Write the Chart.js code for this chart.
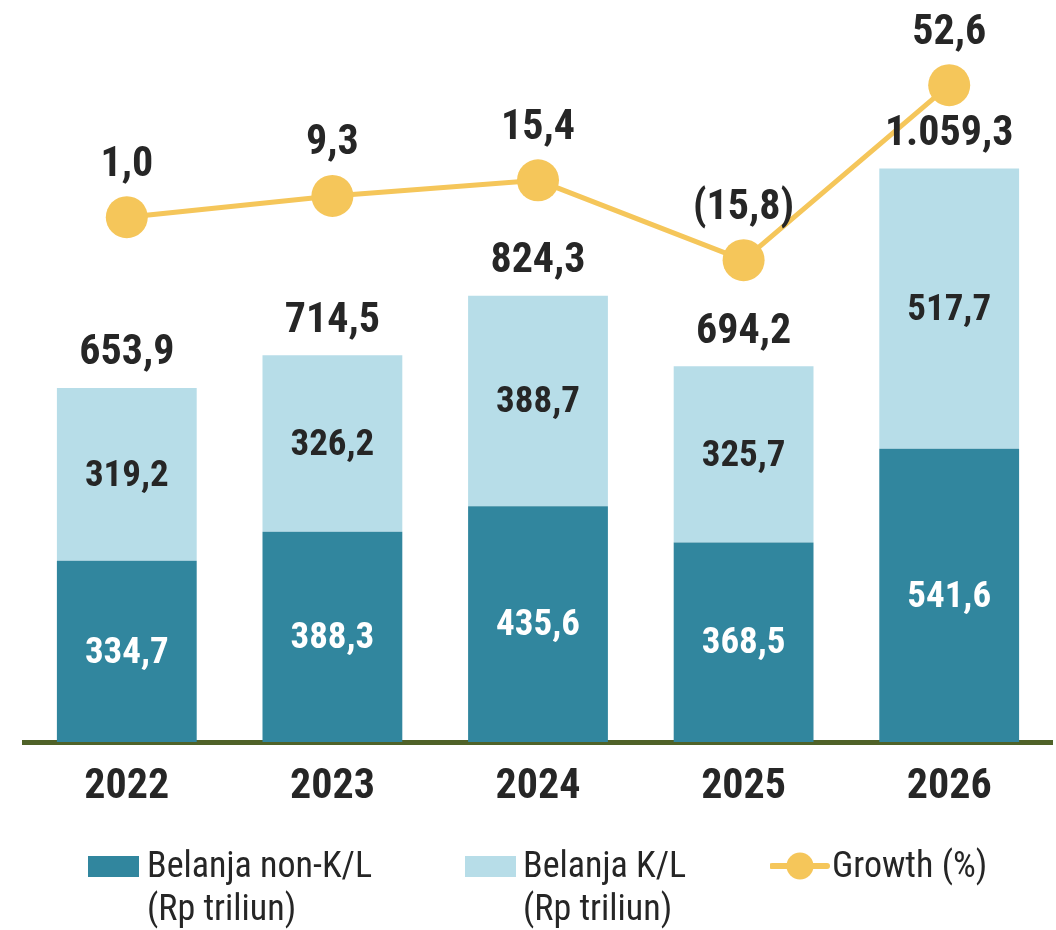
<!DOCTYPE html>
<html>
<head>
<meta charset="utf-8">
<script src="https://cdn.jsdelivr.net/npm/chart.js@4/dist/chart.umd.min.js"></script>
<style>
  html, body { margin: 0; padding: 0; background: #fff; overflow: hidden; }
  #wrap { position: relative; width: 1056px; height: 930px; }
  #c { position: absolute; left: 0; top: 0; }
  .lg { position: absolute; font-family: "Roboto Condensed", "Liberation Sans Narrow", "Arial Narrow", sans-serif; font-size: 36px; color: #262626; line-height: 43px; white-space: nowrap; }
  .box { position: absolute; width: 51px; height: 21px; }
</style>
</head>
<body>
<div id="wrap">
  <canvas id="c" width="1056" height="930"></canvas>
  <div class="box" style="left:88px; top:856px; background:#31869E;"></div>
  <div class="lg" style="left:147px; top:844px;">Belanja non-K/L<br>(Rp triliun)</div>
  <div class="box" style="left:465px; top:856px; background:#B7DDE8;"></div>
  <div class="lg" style="left:523px; top:844px;">Belanja K/L<br>(Rp triliun)</div>
  <svg style="position:absolute; left:770px; top:848px;" width="60" height="36">
    <line x1="2" y1="18" x2="57" y2="18" stroke="#F5C65A" stroke-width="6" stroke-linecap="round"/>
    <circle cx="30" cy="18" r="13.5" fill="#F5C65A"/>
  </svg>
  <div class="lg" style="left:832px; top:844px;">Growth (%)</div>
</div>
<script>
const years = ["2022", "2023", "2024", "2025", "2026"];
const nonKL = [334.7, 388.3, 435.6, 368.5, 541.6];
const KL = [319.2, 326.2, 388.7, 325.7, 517.7];
const totals = [653.9, 714.5, 824.3, 694.2, 1059.3];
const growth = [1.0, 9.3, 15.4, -15.8, 52.6];

const FONT = '"Roboto Condensed", "Liberation Sans Narrow", "Arial Narrow", sans-serif';

function fmt(v) {
  const neg = v < 0;
  const a = Math.abs(v).toFixed(1);
  let [i, d] = a.split('.');
  i = i.replace(/\B(?=(\d{3})+(?!\d))/g, '.');
  const s = i + ',' + d;
  return neg ? '(' + s + ')' : s;
}

const labelPlugin = {
  id: 'labels',
  afterDatasetsDraw(chart) {
    const ctx = chart.ctx;
    ctx.save();
    ctx.textAlign = 'center';
    ctx.textBaseline = 'middle';
    const m0 = chart.getDatasetMeta(0);
    const m1 = chart.getDatasetMeta(1);
    const m2 = chart.getDatasetMeta(2);
    ctx.font = 'bold 37px ' + FONT;
    m0.data.forEach((el, i) => {
      ctx.fillStyle = '#ffffff';
      ctx.fillText(fmt(nonKL[i]), el.x, (el.y + el.base) / 2 + 2);
    });
    m1.data.forEach((el, i) => {
      ctx.fillStyle = '#262626';
      ctx.fillText(fmt(KL[i]), el.x, (el.y + el.base) / 2 + 2);
    });
    ctx.font = 'bold 42px ' + FONT;
    m1.data.forEach((el, i) => {
      ctx.fillStyle = '#262626';
      ctx.fillText(fmt(totals[i]), el.x, el.y - 34);
    });
    m2.data.forEach((el, i) => {
      ctx.fillStyle = '#262626';
      ctx.fillText(fmt(growth[i]), el.x, el.y - 52);
    });
    ctx.restore();
  }
};

new Chart(document.getElementById('c'), {
  type: 'bar',
  data: {
    labels: years,
    datasets: [
      { label: 'Belanja non-K/L (Rp triliun)', data: nonKL, backgroundColor: '#31869E', stack: 's', order: 2, yAxisID: 'y', barPercentage: 0.68, categoryPercentage: 1.0 },
      { label: 'Belanja K/L (Rp triliun)', data: KL, backgroundColor: '#B7DDE8', stack: 's', order: 2, yAxisID: 'y', barPercentage: 0.68, categoryPercentage: 1.0 },
      { type: 'line', label: 'Growth (%)', data: growth, borderColor: '#F5C65A', backgroundColor: '#F5C65A', borderWidth: 5, pointRadius: 21, pointHoverRadius: 21, pointBorderWidth: 0, yAxisID: 'y2', order: 0, tension: 0, clip: false }
    ]
  },
  options: {
    responsive: false,
    animation: false,
    events: [],
    layout: { autoPadding: false, padding: { left: 24, right: 4, top: 10, bottom: 0 } },
    plugins: { legend: { display: false }, tooltip: { enabled: false } },
    scales: {
      x: {
        stacked: true,
        grid: { display: false, drawTicks: false },
        border: { display: true, color: '#4F6228', width: 5 },
        ticks: { color: '#262626', font: { family: FONT, size: 42, weight: 'bold' }, padding: 20 },
        afterFit(scale) { scale.paddingLeft = 0; scale.paddingRight = 0; scale.height = 188; }
      },
      y: { stacked: true, display: false, min: 0, max: 1352 },
      y2: { display: false, min: -204.2, max: 82.0 }
    }
  },
  plugins: [labelPlugin]
});
</script>
</body>
</html>
